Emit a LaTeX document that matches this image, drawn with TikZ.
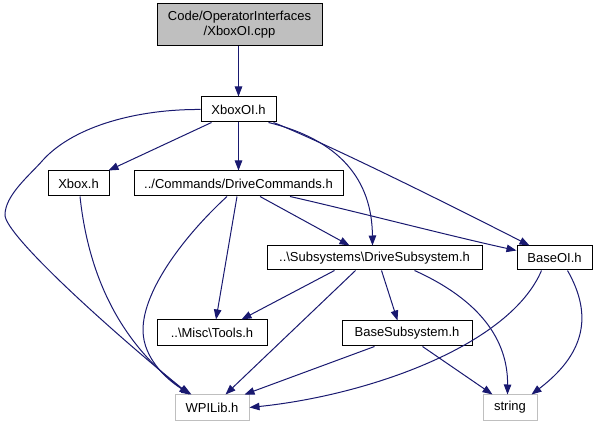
\documentclass[tikz,border=0pt]{standalone}
\usepackage{fontspec}
\setmainfont{Liberation Sans}
\usetikzlibrary{arrows.meta,calc}
\definecolor{edgeblue}{RGB}{25,25,112}
\definecolor{graybox}{RGB}{191,191,191}
\begin{document}
\begin{tikzpicture}[x=1pt,y=-1pt,
  box/.style={draw=black,line width=1pt,fill=white,inner sep=0pt,font=\fontsize{13}{15}\selectfont,align=center},
  extbox/.style={box,draw=graybox},
  dep/.style={draw=edgeblue,line width=1pt,-{Triangle[length=10pt,width=7.5pt]}}]
\useasboundingbox (0,0) rectangle (597,427);
% nodes
\node[box,fill=graybox,minimum width=165pt,minimum height=42pt] (cpp) at (239.5,25) {Code/OperatorInterfaces\\/XboxOI.cpp};
\node[box,minimum width=75pt,minimum height=25pt] (xoi) at (238.5,109.5) {XboxOI.h};
\node[box,minimum width=61pt,minimum height=25pt] (xbox) at (78.5,183.5) {Xbox.h};
\node[box,minimum width=209pt,minimum height=25pt] (dc) at (238.5,183.5) {../Commands/DriveCommands.h};
\node[box,minimum width=215pt,minimum height=24pt] (ds) at (374.5,258) {..\textbackslash Subsystems\textbackslash DriveSubsystem.h};
\node[box,minimum width=75pt,minimum height=24pt] (boi) at (554.5,258) {BaseOI.h};
\node[box,minimum width=110pt,minimum height=26pt] (tools) at (212,333) {..\textbackslash Misc\textbackslash Tools.h};
\node[box,minimum width=130pt,minimum height=25pt] (bsub) at (407,333.5) {BaseSubsystem.h};
\node[extbox,minimum width=74pt,minimum height=25pt] (wpi) at (212,407.5) {WPILib.h};
\node[extbox,minimum width=54pt,minimum height=25pt] (str) at (510,407.5) {string};
% edges
\draw[dep] (cpp.south -| xoi.south) -- (xoi.north);
\draw[dep] ($(xoi.south west)+(11,0)$) -- ($(xbox.north east)+(-1,0)$);
\draw[dep] (xoi.south) -- (dc.north);
\draw[dep] (xoi.west) .. controls (140,109) and (75,125) .. (43,160)
  .. controls (30,175) and (5,195) .. (5,215)
  .. controls (5,235) and (110,330) .. ($(wpi.north west)+(15,0)$);
\draw[dep] ($(xoi.south east)+(-8,0)$) .. controls (340,140) and (372,180) .. ($(ds.north west)+(106,0)$);
\draw[dep] ($(xoi.south east)+(-3,0)$) .. controls (330,145) and (460,210) .. ($(boi.north west)+(13,0)$);
\draw[dep] ($(xbox.south)+(1.5,0)$) .. controls (90,290) and (130,350) .. ($(wpi.north west)+(15,0)$);
\draw[dep] ($(dc.south)+(-11.5,0)$) .. controls (185,235) and (143,290) .. (143,330)
  .. controls (143,360) and (170,382) .. ($(wpi.north west)+(17,0)$);
\draw[dep] ($(dc.south)+(-1.5,0)$) -- ($(tools.north)+(4,0)$);
\draw[dep] ($(dc.south)+(21.5,0)$) -- ($(ds.north west)+(83,0)$);
\draw[dep] ($(dc.south)+(51.5,0)$) .. controls (350,210) and (450,236) .. ($(boi.north west)+(0,5)$);
\draw[dep] ($(ds.south west)+(68,0)$) -- ($(tools.north west)+(85,0)$);
\draw[dep] ($(ds.south west)+(89,0)$) -- ($(wpi.north west)+(51,0)$);
\draw[dep] ($(ds.south west)+(115,0)$) -- ($(bsub.north west)+(56,0)$);
\draw[dep] ($(ds.south west)+(148,0)$) .. controls (480,300) and (508,340) .. ($(str.north west)+(25,0)$);
\draw[dep] ($(boi.south west)+(25,0)$) .. controls (510,345) and (370,395) .. (wpi.east);
\draw[dep] ($(boi.south west)+(51,0)$) .. controls (590,310) and (590,350) .. ($(str.north east)+(-6,0)$);
\draw[dep] ($(bsub.south west)+(33,0)$) -- ($(wpi.north east)+(-5,0)$);
\draw[dep] ($(bsub.south west)+(81,0)$) -- ($(str.north west)+(10,0)$);
\end{tikzpicture}
\end{document}
